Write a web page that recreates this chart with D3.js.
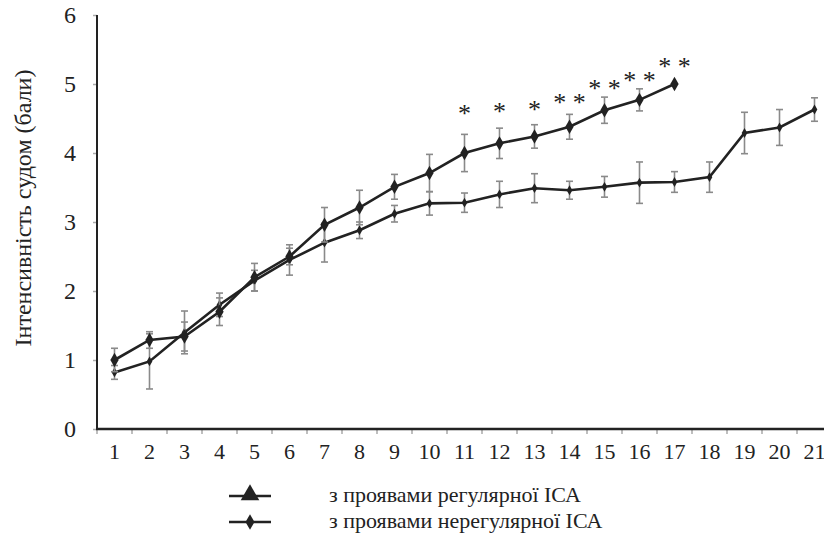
<!DOCTYPE html>
<html><head><meta charset="utf-8"><script src="https://cdn.jsdelivr.net/npm/d3@7"></script></head><body style="margin:0">
<svg id="c" width="824" height="546"></svg>
<script>
const days = d3.range(1, 22);
const yTicks = [0,1,2,3,4,5,6];
const irregularVals = [1.0,1.29,1.34,1.70,2.2,2.5,2.96,3.21,3.51,3.71,4.0,4.14,4.24,4.38,4.62,4.77,5.0];
const irregularErr  = [0.17,0.12,0.21,0.2,0.2,0.12,0.25,0.25,0.18,0.27,0.27,0.22,0.17,0.18,0.19,0.16,0];
const regularVals = [0.82,0.98,1.4,1.8,2.15,2.45,2.7,2.88,3.12,3.27,3.28,3.4,3.49,3.46,3.51,3.57,3.58,3.65,4.29,4.37,4.63];
const regularErr  = [0.1,0.4,0.31,0.17,0.15,0.22,0.28,0.12,0.12,0.17,0.14,0.19,0.21,0.13,0.15,0.3,0.15,0.22,0.3,0.26,0.17];
const starDays = [11,12,13,14,15,16,17];
const starLabels = ["*","*","*","* *","* *","* *","* *"];
const starY = [4.64,4.67,4.70,4.79,5.0,5.12,5.32];
const legendLabels = ["з проявами регулярної ІСА","з проявами нерегулярної ІСА"];
const yTitle = "Інтенсивність судом (бали)";

const FONT = "'Times New Roman', 'Liberation Serif', monospace";
const svg = d3.select("#c");
const x = d3.scaleBand().domain(days).range([97, 97 + 21*35]).padding(0);
const y = d3.scaleLinear().domain([0,6]).range([429,15]);
const cx = d => x(d) + x.bandwidth()/2;

function txt(sel, size){ return sel.style("font-family", FONT).style("font-size", size + "px").attr("fill","#222"); }

// y axis
const ya = svg.append("g").attr("transform","translate(97,0)")
  .call(d3.axisLeft(y).tickValues(yTicks).tickSize(4).tickPadding(17).tickFormat(d3.format("d")));
ya.attr("font-family", null).attr("font-size", null);
ya.select(".domain").remove();
ya.selectAll(".tick line").attr("stroke","#aaa").attr("stroke-width",1.5);
txt(ya.selectAll(".tick text"), 24);
svg.append("line").attr("x1",97).attr("x2",97).attr("y1",y(6)).attr("y2",y(0)+1).attr("stroke","#222").attr("stroke-width",2);

// x axis
const xa = svg.append("g").attr("transform","translate(0,429)")
  .call(d3.axisBottom(x).tickSize(0).tickPadding(14));
xa.attr("font-family", null).attr("font-size", null);
xa.select(".domain").remove();
txt(xa.selectAll(".tick text"), 22);
svg.append("g").selectAll("line").data(days).join("line")
  .attr("x1",d=>x(d)).attr("x2",d=>x(d)).attr("y1",430).attr("y2",434)
  .attr("stroke","#aaa").attr("stroke-width",1.5);
svg.append("line").attr("x1",96).attr("x2",824).attr("y1",429).attr("y2",429).attr("stroke","#222").attr("stroke-width",2.5);

txt(svg.append("text").attr("transform",`translate(31,208) rotate(-90)`).attr("text-anchor","middle"), 24).text(yTitle);

function drawSeries(vals, errs, symType, symSize){
  const pts = vals.map((v,i)=>({d:days[i], v, e:errs[i]}));
  const g = svg.append("g");
  const eb = g.append("g").attr("stroke","#8a8a8a").attr("stroke-width",1.6);
  pts.filter(p=>p.e>0).forEach(p=>{
    const X = cx(p.d);
    eb.append("line").attr("x1",X).attr("x2",X).attr("y1",y(p.v+p.e)).attr("y2",y(p.v-p.e));
    eb.append("line").attr("x1",X-3.5).attr("x2",X+3.5).attr("y1",y(p.v+p.e)).attr("y2",y(p.v+p.e));
    eb.append("line").attr("x1",X-3.5).attr("x2",X+3.5).attr("y1",y(p.v-p.e)).attr("y2",y(p.v-p.e));
  });
  g.append("path").datum(pts).attr("fill","none").attr("stroke","#222").attr("stroke-width",2.6)
    .attr("d", d3.line().x(p=>cx(p.d)).y(p=>y(p.v)));
  g.selectAll("path.m").data(pts).join("path").attr("class","m")
    .attr("transform",p=>`translate(${cx(p.d)},${y(p.v)})`)
    .attr("d", d3.symbol().type(symType).size(symSize)).attr("fill","#222");
}
drawSeries(regularVals, regularErr, d3.symbolDiamond, 28);
drawSeries(irregularVals, irregularErr, d3.symbolDiamond, 60);

txt(svg.append("g").selectAll("text").data(starDays).join("text")
  .attr("x",d=>cx(d)).attr("y",(d,i)=>y(starY[i])+13).attr("text-anchor","middle"), 26)
  .text((d,i)=>starLabels[i]);

// legend
const lg = svg.append("g");
const rows = [{t:legendLabels[0], s:d3.symbolTriangle, sz:150, y:496},{t:legendLabels[1], s:d3.symbolDiamond, sz:70, y:522}];
rows.forEach(r=>{
  lg.append("line").attr("x1",229).attr("x2",271).attr("y1",r.y).attr("y2",r.y).attr("stroke","#222").attr("stroke-width",2.6);
  lg.append("path").attr("transform",`translate(250,${r.y - (r.s===d3.symbolTriangle?1:0)})`).attr("d",d3.symbol().type(r.s).size(r.sz)).attr("fill","#222");
  txt(lg.append("text").attr("x",329).attr("y",r.y+6), 22).text(r.t);
});
</script></body></html>
